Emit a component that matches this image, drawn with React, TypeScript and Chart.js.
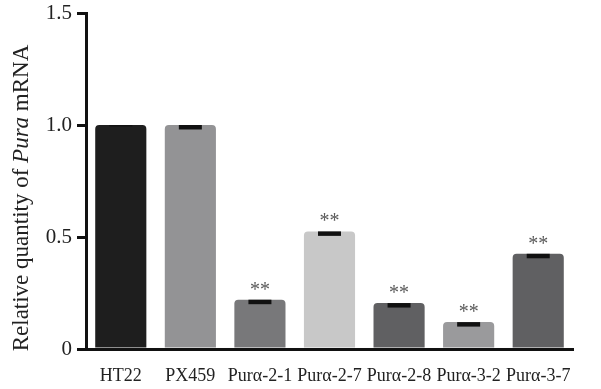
import React, { useEffect, useRef } from "react";
import { Chart, registerables } from "chart.js";
Chart.register(...registerables);

const categories = ["HT22", "PX459", "Purα-2-1", "Purα-2-7", "Purα-2-8", "Purα-3-2", "Purα-3-7"];
const values = [1.0, 1.0, 0.22, 0.525, 0.205, 0.12, 0.425];
const errors = [0.004, 0.02, 0.02, 0.02, 0.02, 0.02, 0.02];
const significance = ["", "", "**", "**", "**", "**", "**"];
const barColors = ["#1e1e1e", "#939395", "#78787a", "#c8c8c8", "#606062", "#9a9a9c", "#606062"];
const yMin = 0;
const yMax = 1.5;
const yStep = 0.5;
const yTitleParts = [
  { text: "Relative quantity of ", italic: false },
  { text: "Pura", italic: true },
  { text: " mRNA", italic: false },
];

const FONT = '"Liberation Serif", "Times New Roman", serif';

const overlayPlugin = {
  id: "overlay",
  afterDatasetsDraw(chart: any) {
    const ctx = chart.ctx;
    const meta = chart.getDatasetMeta(0);
    const yScale = chart.scales.y;
    ctx.save();
    meta.data.forEach((bar: any, i: number) => {
      const v = values[i];
      const e = errors[i];
      const yTop = yScale.getPixelForValue(v);
      const yBot = yScale.getPixelForValue(v - e);
      const w = 23;
      ctx.fillStyle = "#111";
      ctx.fillRect(bar.x - w / 2, yTop, w, Math.max(1.5, yBot - yTop));
      if (significance[i]) {
        ctx.fillStyle = "#5a5a5a";
        ctx.font = `20px ${FONT}`;
        ctx.textAlign = "center";
        ctx.textBaseline = "alphabetic";
        ctx.fillText(significance[i], bar.x, yTop - 4);
      }
    });
    ctx.restore();
  },
  afterDraw(chart: any) {
    const ctx = chart.ctx;
    ctx.save();
    ctx.translate(22, 198);
    ctx.rotate(-Math.PI / 2);
    ctx.fillStyle = "#222";
    ctx.textBaseline = "middle";
    ctx.textAlign = "left";
    const fonts = yTitleParts.map((p) => `${p.italic ? "italic " : ""}23px ${FONT}`);
    let total = 0;
    const widths = yTitleParts.map((p, i) => {
      ctx.font = fonts[i];
      const w = ctx.measureText(p.text).width;
      total += w;
      return w;
    });
    let x = -total / 2;
    yTitleParts.forEach((p, i) => {
      ctx.font = fonts[i];
      ctx.fillText(p.text, x, 0);
      x += widths[i];
    });
    ctx.restore();
  },
};

export default function App() {
  const ref = useRef<HTMLCanvasElement | null>(null);
  useEffect(() => {
    document.body.style.margin = "0";
    const chart = new Chart(ref.current as HTMLCanvasElement, {
      type: "bar",
      data: {
        labels: categories,
        datasets: [
          {
            data: values,
            backgroundColor: barColors,
            borderWidth: 0,
            borderRadius: { topLeft: 4, topRight: 4, bottomLeft: 0, bottomRight: 0 },
            borderSkipped: false,
            categoryPercentage: 1,
            barPercentage: 0.735,
          },
        ],
      },
      options: {
        responsive: false,
        animation: false,
        layout: { padding: { top: 13, right: 28, left: 0, bottom: 0 } },
        plugins: { legend: { display: false }, tooltip: { enabled: false } },
        scales: {
          x: {
            grid: { display: false },
            border: { display: true, color: "#111", width: 3 },
            ticks: {
              color: "#222",
              font: { family: FONT, size: 18 },
              padding: 8,
              maxRotation: 0,
              autoSkip: false,
            },
            afterFit: (s: any) => {
              s.height = 40;
              s.paddingLeft = 0;
              s.paddingRight = 0;
            },
          },
          y: {
            min: yMin,
            max: yMax,
            grid: { drawOnChartArea: false, drawTicks: true, tickLength: 9, lineWidth: 3, color: "#111" },
            border: { display: true, color: "#111", width: 3 },
            ticks: {
              stepSize: yStep,
              color: "#222",
              font: { family: FONT, size: 21 },
              padding: 5,
              callback: (v: any) => (Number(v) === 0 ? "0" : Number(v).toFixed(1)),
            },
            afterFit: (s: any) => {
              s.width = 86;
              s.paddingTop = 0;
              s.paddingBottom = 0;
            },
          },
        },
      },
      plugins: [overlayPlugin],
    });
    return () => chart.destroy();
  }, []);
  return (
    <div style={{ width: 601, height: 389, background: "#fff" }}>
      <canvas ref={ref} width={601} height={389} />
    </div>
  );
}
